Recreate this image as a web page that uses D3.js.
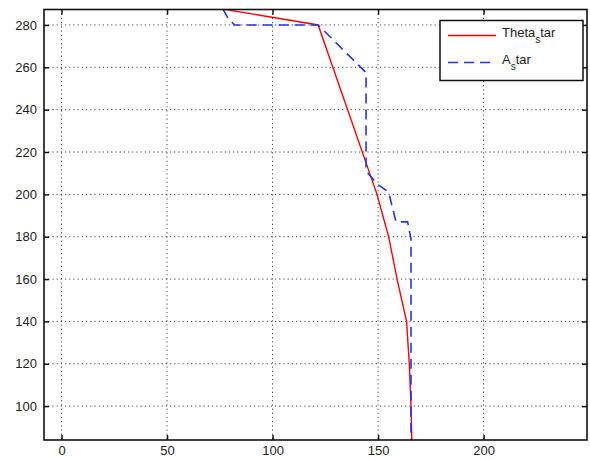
<!DOCTYPE html>
<html>
<head>
<meta charset="utf-8">
<script src="https://cdn.jsdelivr.net/npm/d3@7"></script>
<style>
  body { margin: 0; background: #fff; }
  text { font-family: "Liberation Sans", Arial, sans-serif; font-size: 13px; fill: #222; }
</style>
</head>
<body>
<svg width="590" height="460"></svg>
<script>
// data: [x value, y value]
var thetaStar = [[76.5, 287.5], [121.6, 280], [149.5, 200], [155, 180], [159, 160],
                 [163.5, 140], [164.8, 120], [165.6, 100], [166, 84]];
var aStar = [[76.5, 287.5], [79, 283], [82, 280], [121.6, 280], [144.3, 257.5],
             [144.3, 211], [149.5, 205], [155, 201], [158.5, 187], [164, 187],
             [165.6, 179], [165.6, 84]];
var xTicks = [0, 50, 100, 150, 200];
var yTicks = [100, 120, 140, 160, 180, 200, 220, 240, 260, 280];
var legendNames = [["Theta", "s", "tar"], ["A", "s", "tar"]];

var svg = d3.select("svg"),
    margin = {top: 9.5, right: 3, bottom: 20, left: 44},
    width = 590 - margin.left - margin.right,
    height = 460 - margin.top - margin.bottom;

var x = d3.scaleLinear().domain([-8.3, 249]).range([0, width]);
var y = d3.scaleLinear().domain([84, 287.3]).range([height, 0]);

var g = svg.append("g")
    .attr("transform", "translate(" + margin.left + "," + margin.top + ")");

// grid punteado
g.selectAll(".gx").data(xTicks).enter().append("line")
    .attr("x1", d => x(d)).attr("x2", d => x(d))
    .attr("y1", 0).attr("y2", height)
    .attr("stroke", "#444").attr("stroke-width", 1).attr("stroke-dasharray", "1.2,3");
g.selectAll(".gy").data(yTicks).enter().append("line")
    .attr("y1", d => y(d)).attr("y2", d => y(d))
    .attr("x1", 0).attr("x2", width)
    .attr("stroke", "#444").attr("stroke-width", 1).attr("stroke-dasharray", "1.2,3");

g.append("clipPath").attr("id", "clip")
  .append("rect").attr("width", width).attr("height", height);

var line = d3.line().x(d => x(d[0])).y(d => y(d[1]));

g.append("path").datum(thetaStar)
    .attr("clip-path", "url(#clip)")
    .attr("d", line).attr("fill", "none")
    .attr("stroke", "#f00").attr("stroke-width", 1.4);

g.append("path").datum(aStar)
    .attr("clip-path", "url(#clip)")
    .attr("d", line).attr("fill", "none")
    .attr("stroke", "#2233f0").attr("stroke-width", 1.6).attr("stroke-dasharray", "10,6");

// ejes con ticks hacia dentro
var ax = g.append("g").attr("transform", "translate(0," + height + ")")
    .call(d3.axisBottom(x).tickValues(xTicks).tickSizeInner(-5).tickSizeOuter(0).tickPadding(6));
var axTop = g.append("g")
    .call(d3.axisTop(x).tickValues(xTicks).tickSizeInner(-5).tickSizeOuter(0).tickFormat(""));
var ay = g.append("g")
    .call(d3.axisLeft(y).tickValues(yTicks).tickSizeInner(-5).tickSizeOuter(0).tickPadding(7));
var ayR = g.append("g").attr("transform", "translate(" + width + ",0)")
    .call(d3.axisRight(y).tickValues(yTicks).tickSizeInner(-5).tickSizeOuter(0).tickFormat(""));

[ax, axTop, ay, ayR].forEach(function(a) {
  a.select(".domain").remove();
  a.selectAll("line").attr("stroke", "#111").attr("stroke-width", 1.5);
  a.selectAll("text").attr("font-family", "Liberation Sans, Arial, sans-serif")
    .attr("font-size", 13.5).attr("fill", "#222");
});

g.append("rect").attr("width", width).attr("height", height)
    .attr("fill", "none").attr("stroke", "#111").attr("stroke-width", 1.6);

// leyenda
var lg = svg.append("g").attr("transform", "translate(440,20.5)");
lg.append("rect").attr("width", 143).attr("height", 60)
    .attr("fill", "#fff").attr("stroke", "#111").attr("stroke-width", 1.5);

var styles = [{c: "#f00", dash: null, w: 1.4}, {c: "#2233f0", dash: "10,6", w: 1.6}];
legendNames.forEach(function(n, i) {
  var yy = 15 + i * 27;
  lg.append("line").attr("x1", 8).attr("x2", 56).attr("y1", yy).attr("y2", yy)
    .attr("stroke", styles[i].c).attr("stroke-width", styles[i].w)
    .attr("stroke-dasharray", styles[i].dash);
  var t = lg.append("text").attr("x", 62).attr("y", yy + 1).attr("font-size", 13);
  t.append("tspan").text(n[0]);
  t.append("tspan").attr("dy", 6).attr("font-size", 10).text(n[1]);
  t.append("tspan").attr("dy", -6).text(n[2]);
});
</script>
</body>
</html>
